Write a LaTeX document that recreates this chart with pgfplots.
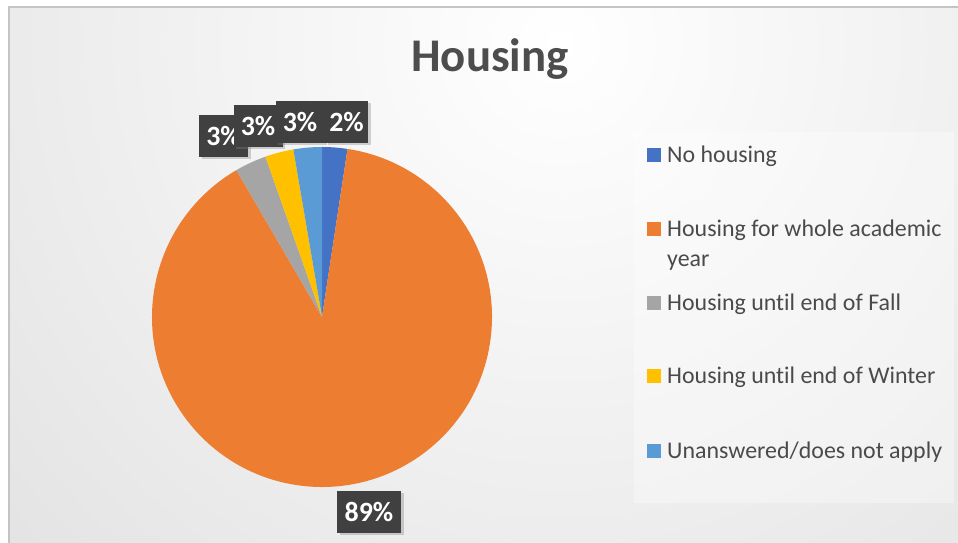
\documentclass[border=0pt]{standalone}
\usepackage{fontspec}
\setmainfont[Ligatures={NoCommon,NoRare,NoContextual}]{Carlito}
\usepackage{pgfplots}
\usepackage{pgfplotstable}
\pgfplotsset{compat=1.18}
\usetikzlibrary{shadows}
\definecolor{cBlue}{HTML}{4472C4}
\definecolor{cOrange}{HTML}{ED7D31}
\definecolor{cGray}{HTML}{A5A5A5}
\definecolor{cYellow}{HTML}{FFC000}
\definecolor{cLBlue}{HTML}{5B9BD5}
\definecolor{cText}{HTML}{4D4D4D}
\definecolor{cLeg}{HTML}{4A4A4A}
\definecolor{cLabel}{HTML}{404040}
\definecolor{cBorder}{HTML}{C4C4C4}

\pgfplotstableread[col sep=comma]{
label,value
No housing,2.4
Housing for whole academic year,89.2
Housing until end of Fall,3.0
Housing until end of Winter,2.7
Unanswered/does not apply,2.7
}\piedata

\pgfplotstablegetelem{0}{value}\of\piedata\let\vA\pgfplotsretval
\pgfplotstablegetelem{1}{value}\of\piedata\let\vB\pgfplotsretval
\pgfplotstablegetelem{2}{value}\of\piedata\let\vC\pgfplotsretval
\pgfplotstablegetelem{3}{value}\of\piedata\let\vD\pgfplotsretval
\pgfplotstablegetelem{4}{value}\of\piedata\let\vE\pgfplotsretval
\pgfmathsetmacro{\tot}{\vA+\vB+\vC+\vD+\vE}
\pgfmathsetmacro{\aO}{90}
\pgfmathsetmacro{\aA}{\aO-\vA/\tot*360}
\pgfmathsetmacro{\aB}{\aA-\vB/\tot*360}
\pgfmathsetmacro{\aC}{\aB-\vC/\tot*360}
\pgfmathsetmacro{\aD}{\aC-\vD/\tot*360}
\pgfmathsetmacro{\aE}{\aD-\vE/\tot*360}

\begin{document}
\begin{tikzpicture}
\begin{axis}[
  name=ax,
  scale only axis, width=958bp, height=543bp,
  xmin=0, xmax=958, ymin=0, ymax=543,
  hide axis, clip=false,
]
% background
\fill[white] (axis cs:0,0) rectangle (axis cs:958,543);
\begin{scope}
  \clip (axis cs:9,0) rectangle (axis cs:958,536);
  \shade[overlay, inner color=white, outer color={rgb,255:red,196;green,196;blue,196}] (axis cs:560,500) circle (1600bp);
\end{scope}
\draw[cBorder, line width=1.8bp] (axis cs:9,0) -- (axis cs:9,536) -- (axis cs:958,536);

% title
\node[text=cText, font=\fontsize{47}{56}\selectfont\bfseries] at (axis cs:490,484) {Housing};

% pie wedges
\def\cx{322}\def\cy{226}\def\R{170bp}
\fill[cBlue]   (axis cs:\cx,\cy) -- ++(\aO:\R) arc[start angle=\aO, end angle=\aA, radius=\R] -- cycle;
\fill[cOrange] (axis cs:\cx,\cy) -- ++(\aA:\R) arc[start angle=\aA, end angle=\aB, radius=\R] -- cycle;
\fill[cGray]   (axis cs:\cx,\cy) -- ++(\aB:\R) arc[start angle=\aB, end angle=\aC, radius=\R] -- cycle;
\fill[cYellow] (axis cs:\cx,\cy) -- ++(\aC:\R) arc[start angle=\aC, end angle=\aD, radius=\R] -- cycle;
\fill[cLBlue]  (axis cs:\cx,\cy) -- ++(\aD:\R) arc[start angle=\aD, end angle=\aE, radius=\R] -- cycle;

% data labels
\tikzset{dl/.style={fill=cLabel, text=white, font=\fontsize{28}{32}\selectfont\bfseries,
  minimum height=42bp, minimum width=49bp, inner sep=2bp,
  drop shadow={opacity=0.35, shadow xshift=2.5bp, shadow yshift=-2.5bp}}}
\node[dl] at (axis cs:223.5,407) {3\%};
\node[dl] at (axis cs:258,417) {3\%};
\node[dl] at (axis cs:300,421) {3\%};
\node[dl, minimum width=43bp] at (axis cs:346.5,421) {2\%};
\node[dl, minimum width=64bp] at (axis cs:369,31) {89\%};

% legend
\fill[white, opacity=0.35] (axis cs:634,40) rectangle (axis cs:954,411);
\tikzset{lm/.style={minimum size=14bp, inner sep=0pt},
  lt/.style={anchor=base west, text=cLeg, font=\fontsize{24}{28}\selectfont, inner sep=0pt}}
\node[lm, fill=cBlue]   at (axis cs:654,388) {};
\node[lm, fill=cOrange] at (axis cs:654,314) {};
\node[lm, fill=cGray]   at (axis cs:654,240) {};
\node[lm, fill=cYellow] at (axis cs:654,167) {};
\node[lm, fill=cLBlue]  at (axis cs:654,92) {};
\node[lt] at (axis cs:667,380.5) {No housing};
\node[lt] at (axis cs:667,306.5) {Housing for whole academic};
\node[lt] at (axis cs:667,276.5) {year};
\node[lt] at (axis cs:667,232.5) {Housing until end of Fall};
\node[lt] at (axis cs:667,159.5) {Housing until end of Winter};
\node[lt] at (axis cs:667,84.5) {Unanswered/does not apply};
\end{axis}
\pgfresetboundingbox
\path (ax.south west) rectangle (ax.north east);
\end{tikzpicture}
\end{document}
